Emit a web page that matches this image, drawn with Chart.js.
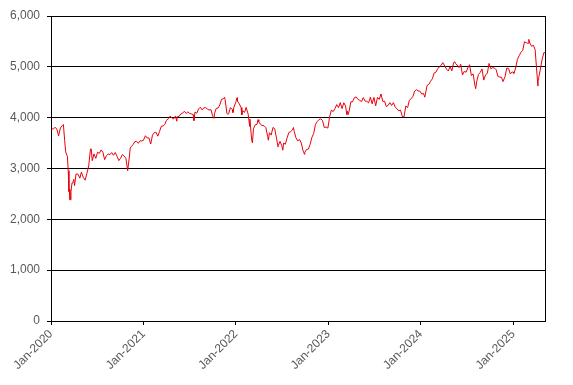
<!DOCTYPE html>
<html>
<head>
<meta charset="utf-8">
<script src="https://cdn.jsdelivr.net/npm/chart.js@4.4.1/dist/chart.umd.min.js"></script>
<style>
html,body{margin:0;padding:0;background:#fff;}
canvas{display:block;}
</style>
</head>
<body>
<canvas id="c" width="573" height="385"></canvas>
<script>
// ---- data ----
const dates = [
// 2020
'2020-01-03','2020-01-10','2020-01-17','2020-01-24','2020-01-31',
'2020-02-07','2020-02-14','2020-02-19','2020-02-24','2020-02-28',
'2020-03-06','2020-03-09','2020-03-12','2020-03-13','2020-03-16','2020-03-18','2020-03-20','2020-03-24','2020-03-27','2020-03-31',
'2020-04-03','2020-04-09','2020-04-17','2020-04-24','2020-04-30',
'2020-05-08','2020-05-15','2020-05-22','2020-05-29',
'2020-06-05','2020-06-08','2020-06-12','2020-06-19','2020-06-26',
'2020-07-03','2020-07-10','2020-07-17','2020-07-24','2020-07-31',
'2020-08-07','2020-08-14','2020-08-21','2020-08-28',
'2020-09-04','2020-09-11','2020-09-18','2020-09-25',
'2020-10-02','2020-10-09','2020-10-16','2020-10-23','2020-10-30',
'2020-11-06','2020-11-09','2020-11-13','2020-11-20','2020-11-27',
'2020-12-04','2020-12-11','2020-12-18','2020-12-24','2020-12-31',
// 2021
'2021-01-08','2021-01-15','2021-01-22','2021-01-29',
'2021-02-05','2021-02-12','2021-02-19','2021-02-26',
'2021-03-05','2021-03-12','2021-03-19','2021-03-26',
'2021-04-01','2021-04-09','2021-04-16','2021-04-23','2021-04-30',
'2021-05-07','2021-05-12','2021-05-14','2021-05-21','2021-05-28',
'2021-06-04','2021-06-11','2021-06-18','2021-06-25',
'2021-07-02','2021-07-09','2021-07-16','2021-07-19','2021-07-23','2021-07-30',
'2021-08-06','2021-08-13','2021-08-20','2021-08-27',
'2021-09-03','2021-09-10','2021-09-17','2021-09-24','2021-09-30',
'2021-10-06','2021-10-08','2021-10-15','2021-10-22','2021-10-29',
'2021-11-05','2021-11-12','2021-11-17','2021-11-19','2021-11-26','2021-11-30',
'2021-12-03','2021-12-10','2021-12-17','2021-12-20','2021-12-24','2021-12-31',
// 2022
'2022-01-05','2022-01-07','2022-01-14','2022-01-21','2022-01-24','2022-01-28',
'2022-02-04','2022-02-10','2022-02-18','2022-02-24','2022-02-25',
'2022-03-04','2022-03-07','2022-03-11','2022-03-18','2022-03-25','2022-03-29',
'2022-04-01','2022-04-08','2022-04-14','2022-04-22','2022-04-29',
'2022-05-06','2022-05-09','2022-05-13','2022-05-20','2022-05-27',
'2022-06-03','2022-06-10','2022-06-16','2022-06-17','2022-06-24',
'2022-07-01','2022-07-05','2022-07-08','2022-07-15','2022-07-22','2022-07-29',
'2022-08-05','2022-08-12','2022-08-16','2022-08-19','2022-08-26',
'2022-09-02','2022-09-09','2022-09-16','2022-09-23','2022-09-29','2022-09-30',
'2022-10-07','2022-10-14','2022-10-21','2022-10-28',
'2022-11-04','2022-11-11','2022-11-18','2022-11-25',
'2022-12-02','2022-12-09','2022-12-16','2022-12-23','2022-12-30',
// 2023
'2023-01-06','2023-01-13','2023-01-20','2023-01-27',
'2023-02-03','2023-02-10','2023-02-17','2023-02-24',
'2023-03-03','2023-03-10','2023-03-15','2023-03-17','2023-03-20','2023-03-24','2023-03-31',
'2023-04-06','2023-04-14','2023-04-21','2023-04-28',
'2023-05-05','2023-05-12','2023-05-19','2023-05-26',
'2023-06-02','2023-06-09','2023-06-16','2023-06-23','2023-06-30',
'2023-07-07','2023-07-14','2023-07-21','2023-07-28',
'2023-08-04','2023-08-11','2023-08-18','2023-08-25',
'2023-09-01','2023-09-08','2023-09-15','2023-09-22','2023-09-29',
'2023-10-06','2023-10-13','2023-10-20','2023-10-27',
'2023-11-03','2023-11-10','2023-11-17','2023-11-24',
'2023-12-01','2023-12-08','2023-12-15','2023-12-22','2023-12-29',
// 2024
'2024-01-05','2024-01-12','2024-01-17','2024-01-19','2024-01-26',
'2024-02-02','2024-02-09','2024-02-16','2024-02-23',
'2024-03-01','2024-03-08','2024-03-15','2024-03-22','2024-03-28',
'2024-04-05','2024-04-12','2024-04-19','2024-04-26',
'2024-05-03','2024-05-10','2024-05-15','2024-05-17','2024-05-24','2024-05-31',
'2024-06-07','2024-06-14','2024-06-21','2024-06-28',
'2024-07-05','2024-07-12','2024-07-19','2024-07-26',
'2024-08-02','2024-08-05','2024-08-09','2024-08-16','2024-08-23','2024-08-30',
'2024-09-06','2024-09-13','2024-09-20','2024-09-27',
'2024-10-04','2024-10-11','2024-10-18','2024-10-25',
'2024-11-01','2024-11-08','2024-11-15','2024-11-21','2024-11-29',
'2024-12-06','2024-12-13','2024-12-20','2024-12-27','2024-12-31',
// 2025
'2025-01-03','2025-01-10','2025-01-17','2025-01-24','2025-01-31',
'2025-02-07','2025-02-14','2025-02-21','2025-02-28',
'2025-03-03','2025-03-07','2025-03-14','2025-03-21','2025-03-28',
'2025-04-04','2025-04-08','2025-04-09','2025-04-11','2025-04-17','2025-04-25',
'2025-05-02','2025-05-06'
];

const closeValues = [
// 2020
3773,3781,3808,3779,3640,
3798,3840,3865,3550,3329,
3232,2960,2545,2586,2386,2385,2548,2715,2716,2787,
2662,2892,2888,2810,2928,
2820,2770,2905,3050,
3384,3385,3154,3288,3200,
3321,3296,3366,3321,3174,
3252,3285,3274,3314,
3260,3315,3239,3155,
3202,3274,3245,3200,2958,
3245,3400,3433,3467,3527,
3536,3496,3545,3543,3553,
// 2021
3645,3600,3602,3481,
3656,3704,3713,3636,
3730,3832,3837,3867,
3946,3978,4032,3995,3975,
4034,3930,4017,4025,4073,
4089,4127,4083,4115,
4084,4074,4058,3942,4110,4089,
4171,4206,4153,4193,
4197,4169,4150,4159,4048,
3986,4077,4183,4188,4250,
4363,4370,4401,4356,4089,4063,
4080,4199,4162,4100,4209,4298,
// 2022
4392,4324,4272,4199,4054,4137,
4103,4203,4070,3830,3970,
3556,3505,3780,3863,3868,3960,
3919,3867,3848,3840,3803,
3630,3556,3704,3657,3807,
3783,3599,3427,3450,3533,
3448,3360,3500,3477,3604,3708,
3725,3757,3806,3730,3603,
3544,3570,3500,3349,3279,3318,
3375,3381,3476,3613,
3690,3867,3924,3962,
3977,3942,3804,3817,3794,
// 2023
4017,4151,4119,4178,
4257,4197,4296,4178,
4294,4229,4057,4130,4060,4130,4315,
4309,4393,4408,4359,
4340,4316,4395,4325,
4323,4290,4404,4272,4399,
4233,4400,4360,4466,
4320,4325,4218,4240,
4296,4240,4295,4208,4175,
4135,4150,4024,4015,
4230,4197,4341,4372,
4418,4525,4550,4524,4522,
// 2024
4463,4480,4403,4448,4635,
4655,4716,4765,4880,
4895,4962,5000,5030,5083,
5015,4955,4918,5006,
4921,5085,5100,5064,5035,4984,
5051,4839,4910,4894,
4979,5042,4828,4862,
4638,4571,4705,4850,4890,4958,
4739,4842,4871,5067,
4962,4985,4978,4943,
4810,4800,4795,4710,4804,
4977,4968,4860,4899,4896,
// 2025
4871,4977,5148,5219,5286,
5325,5493,5473,5464,
5540,5468,5404,5424,5339,
4878,4622,4750,4787,4935,5155,
5286,5270
];

const tickDates  = ['2020-01-01','2021-01-01','2022-01-01','2023-01-01','2024-01-01','2025-01-01'];
const tickLabels = ['Jan-2020','Jan-2021','Jan-2022','Jan-2023','Jan-2024','Jan-2025'];
const yTicks = [0,1000,2000,3000,4000,5000,6000];

// ---- helpers ----
const ORIGIN = Date.UTC(2020,0,1);
function dayNum(s){ const p=s.split('-').map(Number); return Math.round((Date.UTC(p[0],p[1]-1,p[2])-ORIGIN)/86400000); }
const points = dates.map((d,i)=>({x:dayNum(d), y:closeValues[i]}));
const tickPos = tickDates.map(dayNum);

const labelColor = '#595959';
const font = {family:'"Liberation Sans", Arial, sans-serif', size:12};

const rightBorder = {
  id:'rightBorder',
  afterDraw(chart){
    const a = chart.chartArea, ctx = chart.ctx;
    ctx.save();
    ctx.strokeStyle = '#000';
    ctx.lineWidth = 1;
    const x = Math.round(a.right)+0.5;
    ctx.beginPath(); ctx.moveTo(x, a.top); ctx.lineTo(x, a.bottom); ctx.stroke();
    ctx.restore();
  }
};

new Chart(document.getElementById('c'), {
  type:'line',
  data:{ datasets:[{
    data: points,
    borderColor:'#e8000b',
    borderWidth:1,
    pointRadius:0,
    tension:0,
    fill:false
  }]},
  options:{
    responsive:false,
    animation:false,
    devicePixelRatio:1,
    layout:{padding:{top:16,right:28,bottom:0,left:0}},
    plugins:{legend:{display:false}, tooltip:{enabled:false}},
    scales:{
      x:{
        type:'linear',
        min:0,
        max:dayNum(dates[dates.length-1]),
        afterBuildTicks(scale){ scale.ticks = tickPos.map(v=>({value:v})); },
        afterFit(scale){ scale.height = 64; },
        ticks:{
          autoSkip:false, maxRotation:45, minRotation:45,
          color:labelColor, font:font, padding:2,
          callback(v){ const i = tickPos.indexOf(v); return i>=0 ? tickLabels[i] : ''; }
        },
        grid:{display:true, drawOnChartArea:false, drawTicks:true, tickLength:4, color:'#000'},
        border:{display:true, color:'#000', width:1}
      },
      y:{
        min:0, max:6000,
        afterBuildTicks(scale){ scale.ticks = yTicks.map(v=>({value:v})); },
        afterFit(scale){ scale.width = 51; },
        ticks:{
          color:labelColor, font:font, padding:7,
          callback(v){ return v.toLocaleString('en-US'); }
        },
        grid:{color:'#000', lineWidth:1, drawTicks:true, tickLength:4},
        border:{display:true, color:'#000', width:1}
      }
    }
  },
  plugins:[rightBorder]
});
</script>
</body>
</html>
